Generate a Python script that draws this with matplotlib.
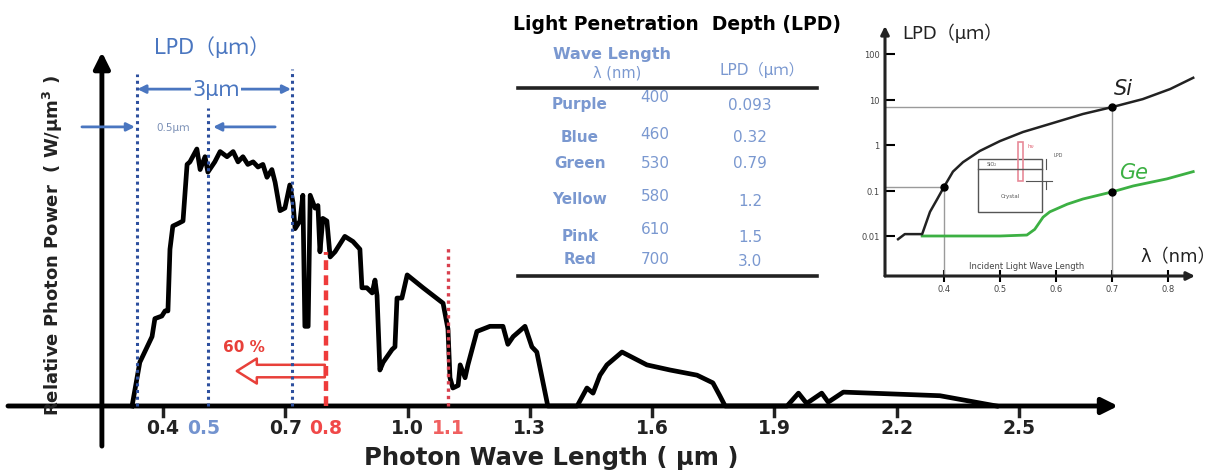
"""Solar photon spectrum with light penetration depth (LPD) notes, table and inset."""

import matplotlib
matplotlib.use("Agg")
import matplotlib.pyplot as plt
from matplotlib.patches import Rectangle
from matplotlib.lines import Line2D

W_PX, H_PX = 1230, 477
DPI = 100

# photon spectrum: wavelength (um), relative photon power (peak = 100)
SPEC_WL = [0.324, 0.343, 0.373, 0.380, 0.397, 0.405, 0.412, 0.417, 0.424, 0.437,
           0.449, 0.459, 0.466, 0.483, 0.491, 0.503, 0.510, 0.527, 0.540, 0.557,
           0.572, 0.584, 0.596, 0.608, 0.621, 0.633, 0.645, 0.655, 0.667, 0.675,
           0.687, 0.699, 0.711, 0.719, 0.724, 0.736, 0.743, 0.748, 0.756, 0.761,
           0.773, 0.780, 0.785, 0.792, 0.802, 0.810, 0.822, 0.846, 0.866, 0.883,
           0.888, 0.900, 0.913, 0.920, 0.925, 0.932, 0.940, 0.962, 0.969, 0.974,
           0.986, 0.999, 1.038, 1.087, 1.099, 1.104, 1.111, 1.124, 1.129, 1.141,
           1.148, 1.170, 1.202, 1.234, 1.246, 1.259, 1.288, 1.305, 1.317, 1.344,
           1.416, 1.440, 1.455, 1.472, 1.489, 1.526, 1.587, 1.644, 1.710, 1.749,
           1.766, 1.779, 1.931, 1.959, 1.979, 2.016, 2.032, 2.069, 2.306, 2.445]
SPEC_P = [0, 17, 27, 34, 35, 37, 37, 61, 70, 71,
          72, 94, 95, 100, 92, 97, 91, 95, 99, 97,
          99, 95, 97, 94, 95, 93, 94, 89, 92, 87,
          76, 77, 86, 79, 69, 72, 82, 31, 31, 82,
          77, 78, 60, 73, 72, 58, 60, 66, 64, 61,
          46, 46, 44, 49, 43, 14, 17, 22, 23, 42,
          42, 51, 46, 40, 30, 11, 7, 8, 16, 11,
          16, 29, 31, 31, 24, 27, 31, 23, 21, 0,
          0, 7, 5, 12, 16, 21, 16, 14, 12, 9,
          4, 0, 0, 5, 1, 5, 1.5, 5.4, 4, 0]

TICK_WL = [0.4, 0.5, 0.7, 0.8, 1.0, 1.1, 1.3, 1.6, 1.9, 2.2, 2.5]
TICK_LABELS = ["0.4", "0.5", "0.7", "0.8", "1.0", "1.1", "1.3", "1.6", "1.9", "2.2", "2.5"]
TICK_COLORS = ["#222222", "#7393cf", "#222222", "#f04848", "#222222", "#f06060",
               "#222222", "#222222", "#222222", "#222222", "#222222"]
TICK_MARK_WL = [0.4, 0.7, 1.0, 1.3, 1.6, 1.9, 2.2, 2.5]

# LPD markers on the spectrum
LPD_WL = [0.335, 0.51, 0.716]
LPD_TOP = [129, 116, 131]
CUT_WL = [0.8, 1.099]
CUT_TOP = [60, 62]

# LPD table
TABLE_COLORS = ["Purple", "Blue", "Green", "Yellow", "Pink", "Red"]
TABLE_NM = ["400", "460", "530", "580", "610", "700"]
TABLE_LPD = ["0.093", "0.32", "0.79", "1.2", "1.5", "3.0"]

# inset: LPD vs wavelength for Si and Ge
SI_WL = [0.318, 0.330, 0.361, 0.375, 0.388, 0.400, 0.416, 0.434, 0.464, 0.500,
         0.541, 0.589, 0.648, 0.700, 0.755, 0.804, 0.845]
SI_LPD = [0.0085, 0.011, 0.011, 0.034, 0.065, 0.12, 0.26, 0.42, 0.74, 1.22,
          1.93, 2.9, 4.8, 6.8, 10.2, 17, 30]
GE_WL = [0.361, 0.411, 0.500, 0.548, 0.562, 0.577, 0.589, 0.620, 0.648, 0.700,
         0.738, 0.798, 0.845]
GE_LPD = [0.010, 0.010, 0.010, 0.0105, 0.014, 0.026, 0.034, 0.050, 0.065, 0.093,
          0.126, 0.18, 0.26]
INSET_XTICKS = [0.4, 0.5, 0.6, 0.7, 0.8]
INSET_YTICKS = [0.01, 0.1, 1, 10, 100]
INSET_YLABELS = ["0.01", "0.1", "1", "10", "100"]
MARK_WL = [0.4, 0.7, 0.7]
MARK_LPD = [0.12, 6.8, 0.093]

BLUE = "#4a76c0"
DOT_BLUE = "#2d4f9e"
RED = "#e8403a"
TABLE_BLUE = "#7a98d0"
GREEN = "#3cb043"
CJK = ["DejaVu Sans", "Noto Sans CJK JP"]


def fx(px):
    return px / W_PX


def fy(py):
    return 1 - py / H_PX


fig = plt.figure(figsize=(W_PX / DPI, H_PX / DPI), dpi=DPI)
fig.patch.set_facecolor("white")

# ---- main spectrum (x: 407.6 px per um, y: axis at 407 px, 2.57 px per unit)
ax = fig.add_axes([0, 0, 1, 1])
ax.set_xlim(0, W_PX / 407.6)
ax.set_ylim(-(H_PX - 407) / 2.57, 407 / 2.57)
ax.axis("off")

ax.annotate("", xy=(1118 / 407.6, 0), xytext=(8 / 407.6, 0),
            arrowprops=dict(arrowstyle="-|>", lw=3.5, color="black",
                            mutation_scale=24, shrinkA=0, shrinkB=0))
ax.annotate("", xy=(0.25, 137.7), xytext=(0.25, -15.6),
            arrowprops=dict(arrowstyle="-|>", lw=3.5, color="black",
                            mutation_scale=24, shrinkA=0, shrinkB=0))

for wl in TICK_MARK_WL:
    ax.plot([wl, wl], [0, -4], color="#222222", lw=2.5)
for wl, lab, col in zip(TICK_WL, TICK_LABELS, TICK_COLORS):
    ax.text(wl, -8.2, lab, color=col, fontsize=13.5, fontweight="bold",
            ha="center", va="center")

ax.plot(SPEC_WL, SPEC_P, color="black", lw=3.4, solid_joinstyle="round", zorder=3)

for wl, top in zip(LPD_WL, LPD_TOP):
    ax.plot([wl, wl], [0, top], color=DOT_BLUE, lw=2.2, linestyle=(0, (1, 1.2)), zorder=4)
ax.plot([CUT_WL[0]] * 2, [0, CUT_TOP[0]], color="#ee3b3b", lw=3.2,
        linestyle=(0, (2.2, 1.2)), zorder=4)
ax.plot([CUT_WL[1]] * 2, [0, CUT_TOP[1]], color="#d8404e", lw=2.4,
        linestyle=(0, (1, 1.2)), zorder=4)

# LPD annotations
ax.text(0.520, 140.1, "LPD（μｍ）", family=CJK, color=BLUE, fontsize=15,
        ha="center", va="center")
ax.annotate("", xy=(0.337, 123.3), xytext=(0.714, 123.3),
            arrowprops=dict(arrowstyle="<|-|>", lw=2, color=BLUE,
                            mutation_scale=12, shrinkA=0, shrinkB=0))
ax.text(0.530, 123.3, "3μｍ", family=CJK, color=BLUE, fontsize=15,
        ha="center", va="center", bbox=dict(fc="white", ec="none", pad=1))
ax.annotate("", xy=(0.331, 108.6), xytext=(0.201, 108.6),
            arrowprops=dict(arrowstyle="-|>", lw=2, color=BLUE,
                            mutation_scale=12, shrinkA=0, shrinkB=0))
ax.annotate("", xy=(0.523, 108.6), xytext=(0.675, 108.6),
            arrowprops=dict(arrowstyle="-|>", lw=2, color=BLUE,
                            mutation_scale=12, shrinkA=0, shrinkB=0))
ax.text(0.424, 108.6, "0.5μｍ", family=CJK, color="#7a8fb5", fontsize=7.5,
        ha="center", va="center")

ax.annotate("", xy=(0.581, 13.6), xytext=(0.797, 13.6),
            arrowprops=dict(arrowstyle="simple,head_length=0.8,head_width=1.0,tail_width=0.5",
                            fc="white", ec=RED, lw=1.8, mutation_scale=18,
                            shrinkA=0, shrinkB=0))
ax.text(0.599, 23, "60 %", color=RED, fontsize=11, fontweight="bold",
        ha="center", va="center")

fig.text(fx(53), fy(246), "Relative Photon Power  ( W/μm$^{\\mathbf{3}}$ )",
         rotation=90, fontsize=13, fontweight="bold", color="#222222",
         ha="center", va="center")
fig.text(fx(551), fy(458), "Photon Wave Length ( µm )", fontsize=17.5,
         fontweight="bold", color="#222222", ha="center", va="center")

# ---- LPD table
fig.text(fx(677), fy(25), "Light Penetration  Depth (LPD)", fontsize=13.5,
         fontweight="bold", color="black", ha="center", va="center")
fig.text(fx(612), fy(55), "Wave Length", fontsize=11.5, fontweight="bold",
         color=TABLE_BLUE, ha="center", va="center")
fig.text(fx(617), fy(73), "λ (nm)", fontsize=10.5, color=TABLE_BLUE,
         ha="center", va="center")
fig.text(fx(762), fy(70), "LPD（μｍ）", family=CJK, fontsize=11,
         color=TABLE_BLUE, ha="center", va="center")
for py in (89, 277):
    fig.add_artist(Line2D([fx(518), fx(817)], [fy(py), fy(py)], color="#222222",
                          lw=2.6, transform=fig.transFigure))
ROW_NAME_Y = [105, 137, 163, 200, 237, 260]
ROW_NM_Y = [98, 135, 163, 197, 230, 260]
for i, name in enumerate(TABLE_COLORS):
    fig.text(fx(580), fy(ROW_NAME_Y[i]), name, fontsize=11, fontweight="bold",
             color=TABLE_BLUE, ha="center", va="center")
    fig.text(fx(655), fy(ROW_NM_Y[i]), TABLE_NM[i], fontsize=11,
             color=TABLE_BLUE, ha="center", va="center")
    fig.text(fx(750), fy(ROW_NAME_Y[i] + 1), TABLE_LPD[i], fontsize=11,
             color=TABLE_BLUE, ha="center", va="center")

# ---- inset: LPD vs wavelength (log scale)
ax2 = fig.add_axes([fx(885), fy(277), fx(1195) - fx(885), fy(27) - fy(277)])
ax2.set_yscale("log")
ax2.set_xlim(0.4 + (885 - 944) / 560, 0.4 + (1195 - 944) / 560)
ax2.set_ylim(10 ** ((146 - 277) / 45.5), 10 ** ((146 - 27) / 45.5))
ax2.patch.set_visible(False)
for s in ax2.spines.values():
    s.set_visible(False)
x0, x1 = ax2.get_xlim()
y0, y1 = ax2.get_ylim()
ax2.annotate("", xy=(1, 0), xytext=(0, 0), xycoords="axes fraction",
             arrowprops=dict(arrowstyle="-|>", lw=2.2, color="#222222",
                             mutation_scale=12, shrinkA=0, shrinkB=0))
ax2.annotate("", xy=(0, 1), xytext=(0, 0), xycoords="axes fraction",
             arrowprops=dict(arrowstyle="-|>", lw=2.2, color="#222222",
                             mutation_scale=12, shrinkA=0, shrinkB=0))
ax2.set_xticks(INSET_XTICKS)
ax2.set_xticklabels([f"{v:.1f}" for v in INSET_XTICKS])
ax2.set_yticks(INSET_YTICKS)
ax2.set_yticklabels(INSET_YLABELS)
ax2.minorticks_off()
ax2.tick_params(axis="x", direction="inout", length=8, width=1.5, labelsize=6,
                labelcolor="#444444", pad=2)
ax2.tick_params(axis="y", direction="in", length=7, width=1.5, labelsize=6,
                labelcolor="#444444", pad=4)

gray = "#9a9a9a"
ax2.plot([x0, MARK_WL[1]], [MARK_LPD[1]] * 2, color=gray, lw=1)
ax2.plot([MARK_WL[1]] * 2, [y0, MARK_LPD[1]], color=gray, lw=1)
ax2.plot([x0, MARK_WL[0]], [MARK_LPD[0]] * 2, color=gray, lw=1)
ax2.plot([MARK_WL[0]] * 2, [y0, MARK_LPD[0]], color=gray, lw=1)
ax2.plot(GE_WL, GE_LPD, color=GREEN, lw=2)
ax2.plot(SI_WL, SI_LPD, color="#222222", lw=1.8)
ax2.plot(MARK_WL, MARK_LPD, "o", color="black", ms=5)

ax2.text(0.72, 18, "Si", fontsize=15, style="italic", color="#222222",
         ha="center", va="center")
ax2.text(0.739, 0.26, "Ge", fontsize=15, style="italic", color=GREEN,
         ha="center", va="center")
ax2.text(0.548, 10 ** ((146 - 267) / 45.5), "Incident Light Wave Length",
         fontsize=6, color="#444444", ha="center", va="center")
fig.text(fx(902), fy(33), "LPD（μｍ）", family=CJK, fontsize=13,
         color="#222222", ha="left", va="center")
fig.text(fx(1140), fy(257), "λ（nm）", family=CJK, fontsize=13,
         color="#222222", ha="left", va="center")

# small crystal sketch inside the inset
fig.add_artist(Rectangle((fx(978), fy(213)), fx(1042) - fx(978), fy(160) - fy(213),
                         fill=False, ec="#555555", lw=1, transform=fig.transFigure))
fig.add_artist(Line2D([fx(978), fx(1042)], [fy(170), fy(170)], color="#555555",
                      lw=1, transform=fig.transFigure))
fig.text(fx(992), fy(165), "SiO₂", fontsize=3.5, color="#555555",
         ha="center", va="center")
fig.text(fx(1010), fy(197), "Crystal", fontsize=4, color="#555555",
         ha="center", va="center")
fig.add_artist(Rectangle((fx(1018), fy(182)), fx(1023) - fx(1018), fy(143) - fy(182),
                         fill=False, ec="#e88a98", lw=1.2, transform=fig.transFigure))
fig.text(fx(1031), fy(146), "hν", fontsize=4, color="#e06070",
         ha="center", va="center")
fig.text(fx(1058), fy(156), "LPD", fontsize=3.5, color="#555555",
         ha="center", va="center")
fig.add_artist(Line2D([fx(1046), fx(1046)], [fy(160), fy(170)], color="#555555",
                      lw=0.8, transform=fig.transFigure))
fig.add_artist(Line2D([fx(1046), fx(1046)], [fy(182), fy(190)], color="#555555",
                      lw=0.8, transform=fig.transFigure))
fig.add_artist(Line2D([fx(1026), fx(1052)], [fy(182), fy(182)], color="#555555",
                      lw=0.8, transform=fig.transFigure))

fig.savefig("out.png", dpi=DPI, facecolor="white")
